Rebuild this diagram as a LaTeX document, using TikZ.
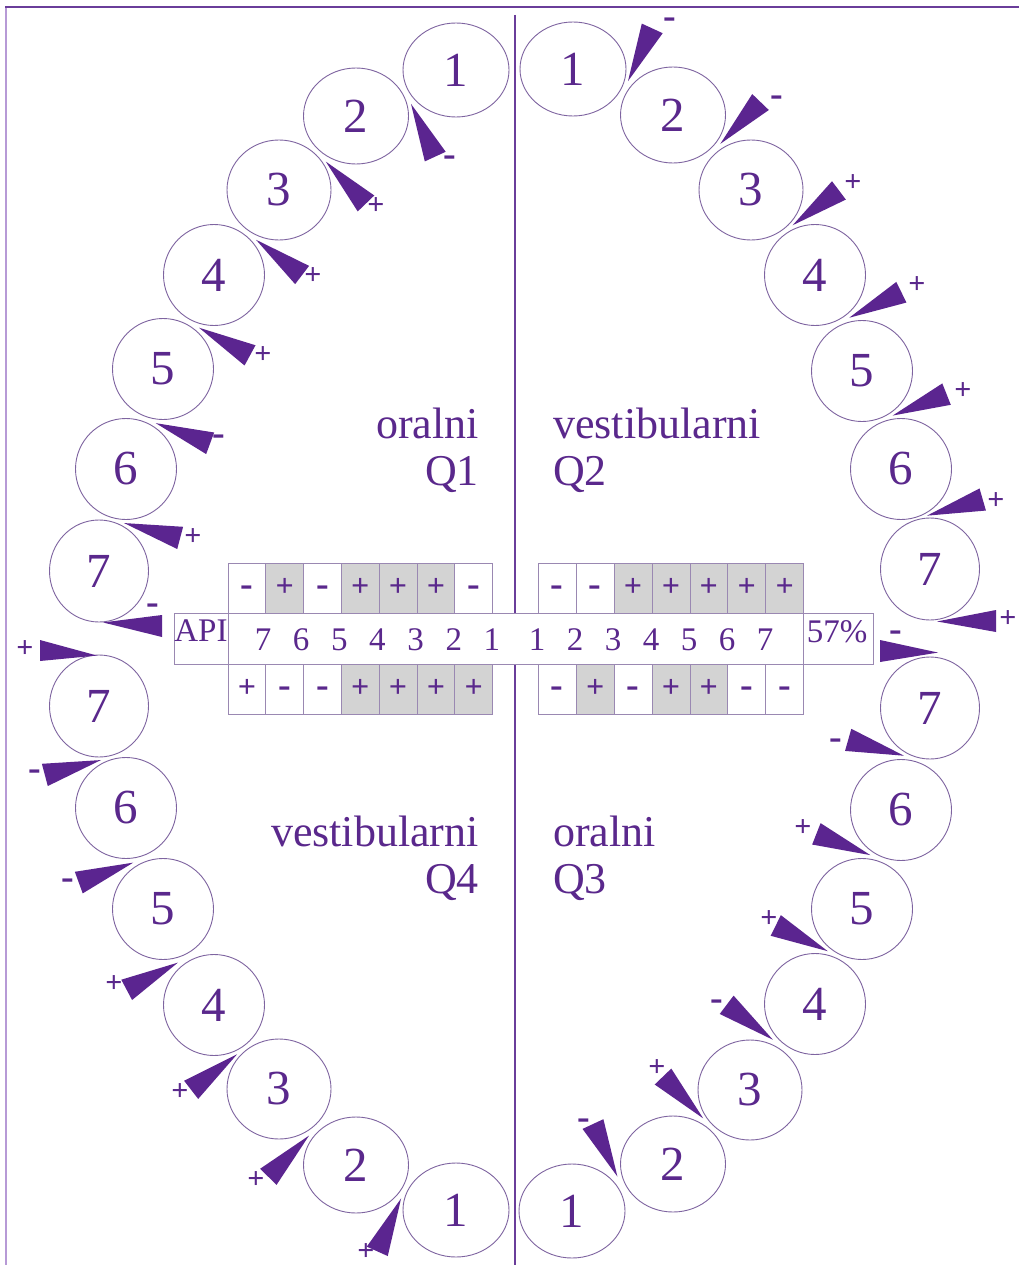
\documentclass[tikz,border=0pt]{standalone}
\usepackage{fontspec}
\setmainfont{Liberation Serif}
\usetikzlibrary{shapes.geometric,calc}
\definecolor{ink}{HTML}{5A288C}
\definecolor{wedgec}{HTML}{5B2590}
\definecolor{toothc}{HTML}{7E64A0}
\definecolor{gridc}{HTML}{9A88B2}
\definecolor{shade}{HTML}{D3D3D3}
\definecolor{framec}{HTML}{6A3D9A}
\definecolor{framel}{HTML}{B79AD6}
\newcommand\mn{{\fontsize{38}{38}\selectfont\bfseries -}}
\newcommand\pl{{\bfseries +}}
\newcommand\wdg[2]{%
  \coordinate (wm) at ($(#1)!0.5!(#2)$);
  \coordinate (wb) at ($(wm)!70pt!90:(#2)$);
  \fill[wedgec] ($(wm)!12pt!90:(#2)$) -- ($(wb)!11.5pt!90:(wm)$) -- ($(wb)!11.5pt!-90:(wm)$) -- cycle;}
\begin{document}
\begin{tikzpicture}[x=1pt,y=-1pt,
  tooth/.style={ellipse, draw=toothc, line width=0.9pt, inner sep=0pt, text=ink, font=\fontsize{49}{49}\selectfont},
  sgn/.style={text=ink, font=\fontsize{30}{30}\selectfont, inner sep=0pt, text height=15pt, text depth=0pt},
  cell/.style={draw=gridc, line width=0.8pt, minimum width=37.9pt, minimum height=50.5pt, inner sep=0pt, text=ink, font=\fontsize{32}{32}\selectfont, text height=16pt, text depth=0pt, fill=white},
  lbl/.style={text=ink, font=\fontsize{44}{44}\selectfont, inner sep=0pt},
  num/.style={text=ink, font=\fontsize{33}{33}\selectfont, inner sep=0pt, anchor=base}]
\useasboundingbox (0,0) rectangle (1019,1265);
\fill[white] (0,0) rectangle (1019,1265);
% frame
\coordinate (fa) at (5,7); \coordinate (fb) at (1019,7);
\coordinate (fc) at (6,7); \coordinate (fd) at (6,1265);
\draw[framel, line width=2.5pt] (fc) -- (fd);
\draw[framec, line width=2pt] (fa) -- (fb);
% centre line
\coordinate (ctop) at (515,15); \coordinate (cbot) at (515,1265);
\draw[framec, line width=2pt] (ctop) -- (cbot);
% table
\node[cell, minimum width=54pt] (api) at (201,639) {};
\node[cell, minimum width=575pt] (row) at (515.5,639) {};
\node[cell, minimum width=70pt] (pct) at (838,639) {};
\node[num] (apit) at (201,641) {API};
\node[num] (pctt) at (837,642) {57\%};
\foreach \d [count=\k] in {7,6,5,4,3,2,1}
  \node[num] (ld\k) at ({263+38.15*(\k-1)},650) {\d};
\foreach \d [count=\k] in {1,2,3,4,5,6,7}
  \node[num] (rd\k) at ({537+38*(\k-1)},650) {\d};
\foreach \s/\f [count=\k] in {\mn/white,\pl/shade,\mn/white,\pl/shade,\pl/shade,\pl/shade,\mn/white}
  \node[cell,fill=\f] (ul\k) at ({228+37.8*(\k-0.5)},588.5) {\s};
\foreach \s/\f [count=\k] in {\pl/white,\mn/white,\mn/white,\pl/shade,\pl/shade,\pl/shade,\pl/shade}
  \node[cell,fill=\f] (ll\k) at ({228+37.8*(\k-0.5)},689.5) {\s};
\foreach \s/\f [count=\k] in {\mn/white,\mn/white,\pl/shade,\pl/shade,\pl/shade,\pl/shade,\pl/shade}
  \node[cell,fill=\f] (ur\k) at ({538.3+37.9*(\k-0.5)},588.5) {\s};
\foreach \s/\f [count=\k] in {\mn/white,\pl/shade,\mn/white,\pl/shade,\pl/shade,\mn/white,\mn/white}
  \node[cell,fill=\f] (lr\k) at ({538.3+37.9*(\k-0.5)},689.5) {\s};
% teeth
\foreach \n/\d/\x/\y/\w/\h in {
  11/1/456/70/106/94, 12/2/356/116/105/96, 13/3/279/190/104/100, 14/4/214/275/101/101,
  15/5/163/369/101/101, 16/6/126/469/101/101, 17/7/99/571/99/102,
  21/1/573/69/106/94, 22/2/673/115/105/96, 23/3/751/190/104/100, 24/4/815/275/101/101,
  25/5/862/371/101/101, 26/6/901/469/101/101, 27/7/930/569/99/102,
  31/1/572/1211/106/94, 32/2/673/1164/105/96, 33/3/750/1090/104/100, 34/4/815/1004/101/101,
  35/5/862/909/101/101, 36/6/901/810/101/101, 37/7/930/708/99/102,
  41/1/456/1210/106/94, 42/2/356/1165/105/96, 43/3/279/1089/104/100, 44/4/214/1005/101/101,
  45/5/163/909/101/101, 46/6/126/808/101/101, 47/7/99/706/99/102}
  \node[tooth, minimum width=\w pt, minimum height=\h pt] (t\n) at (\x,\y) {\d};
% wedges between neighbouring teeth
\foreach \q in {1,2,3,4}{
  \foreach \a/\b in {1/2,2/3,3/4,4/5,5/6,6/7}{
    \wdg{t\q\a}{t\q\b}
  }
}
% distal wedges of the sevens
\fill[wedgec] ($(t17.south)+(4,0)$) -- (162,615) -- (162,637) -- cycle;
\fill[wedgec] ($(t47.north)+(-2,1)$) -- (40,640) -- (40,661) -- cycle;
\fill[wedgec] ($(t27.south)+(7,1)$) -- (996,610) -- (996,632) -- cycle;
\fill[wedgec] ($(t37.north)+(8,-4)$) -- (880,640) -- (880,662) -- cycle;
% signs
\foreach \s/\x/\y [count=\k] in {
  \mn/450/159, \pl/376/207, \pl/313/277, \pl/263/356, \mn/219/438, \pl/193/538, \mn/153/607,
  \mn/670/21, \mn/777/99, \pl/853/184, \pl/917/286, \pl/963/392, \pl/996/502, \pl/1008/620,
  \mn/584/1122, \pl/657/1069, \mn/717/1003, \pl/769/920, \pl/803/829, \mn/836/742, \mn/896/634,
  \pl/366/1253, \pl/256/1181, \pl/180/1093, \pl/114/985, \mn/68/882, \mn/35/773, \pl/25/650}
  \node[sgn] (s\k) at (\x,\y) {\s};
% labels
\node[lbl, anchor=base east] (q1a) at (479,438) {oralni};
\node[lbl, anchor=base east] (q1b) at (479,485) {Q1};
\node[lbl, anchor=base west] (q2a) at (553,438) {vestibularni};
\node[lbl, anchor=base west] (q2b) at (553,485) {Q2};
\node[lbl, anchor=base east] (q4a) at (479,846) {vestibularni};
\node[lbl, anchor=base east] (q4b) at (479,893) {Q4};
\node[lbl, anchor=base west] (q3a) at (553,846) {oralni};
\node[lbl, anchor=base west] (q3b) at (553,893) {Q3};
\end{tikzpicture}
\end{document}
